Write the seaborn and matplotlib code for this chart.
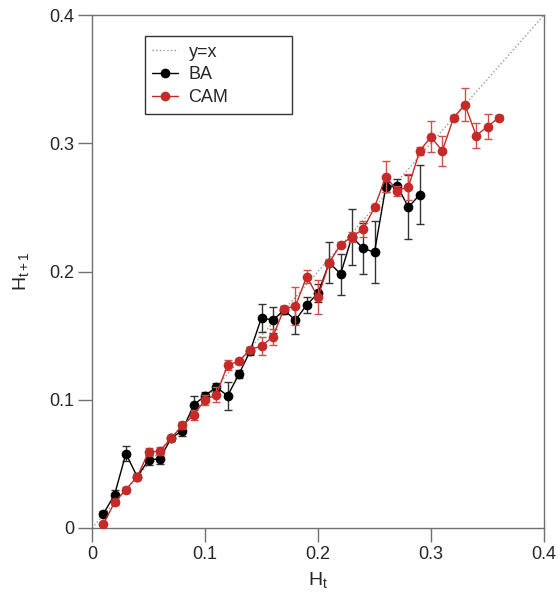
import seaborn as sns
import matplotlib.pyplot as plt
import pandas as pd
import numpy as np

sns.set_style('white')
plt.rcParams['font.family'] = ['Liberation Sans', 'DejaVu Sans']
plt.rcParams['mathtext.fontset'] = 'custom'
plt.rcParams['mathtext.rm'] = 'Liberation Sans'
plt.rcParams['mathtext.it'] = 'Liberation Sans:italic'

# BA model
ht_ba = [0.01, 0.02, 0.03, 0.04, 0.05, 0.06, 0.07, 0.08, 0.09, 0.10,
         0.11, 0.12, 0.13, 0.14, 0.15, 0.16, 0.17, 0.18, 0.19, 0.20,
         0.21, 0.22, 0.23, 0.24, 0.25, 0.26, 0.27, 0.28, 0.29]
ba = [0.011, 0.026, 0.058, 0.040, 0.053, 0.054, 0.070, 0.076, 0.096, 0.103,
      0.110, 0.103, 0.120, 0.138, 0.164, 0.162, 0.170, 0.162, 0.174, 0.183,
      0.207, 0.198, 0.227, 0.218, 0.215, 0.266, 0.267, 0.250, 0.260]
ba_err = [0.002, 0.004, 0.006, 0.002, 0.004, 0.004, 0.002, 0.004, 0.007, 0.003,
          0.003, 0.011, 0.003, 0.003, 0.011, 0.010, 0.003, 0.011, 0.006, 0.007,
          0.016, 0.016, 0.022, 0.020, 0.024, 0.004, 0.005, 0.025, 0.023]

# CAM model
ht_cam = [0.01, 0.02, 0.03, 0.04, 0.05, 0.06, 0.07, 0.08, 0.09, 0.10,
          0.11, 0.12, 0.13, 0.14, 0.15, 0.16, 0.17, 0.18, 0.19, 0.20,
          0.21, 0.22, 0.23, 0.24, 0.25, 0.26, 0.27, 0.28, 0.29, 0.30,
          0.31, 0.32, 0.33, 0.34, 0.35, 0.36]
cam = [0.003, 0.020, 0.030, 0.040, 0.059, 0.060, 0.070, 0.080, 0.088, 0.100,
       0.104, 0.127, 0.130, 0.139, 0.142, 0.149, 0.171, 0.173, 0.196, 0.180,
       0.207, 0.221, 0.227, 0.233, 0.250, 0.274, 0.263, 0.266, 0.294, 0.305,
       0.294, 0.320, 0.330, 0.306, 0.313, 0.320]
cam_err = [0.001, 0.002, 0.002, 0.002, 0.003, 0.003, 0.002, 0.003, 0.004, 0.004,
           0.006, 0.004, 0.002, 0.002, 0.007, 0.006, 0.002, 0.015, 0.005, 0.013,
           0.003, 0.002, 0.004, 0.006, 0.002, 0.012, 0.004, 0.010, 0.003, 0.012,
           0.012, 0.002, 0.013, 0.010, 0.010, 0.002]

red = '#c42a28'
red_light = '#d2504a'
grey = '#707070'

df_ba = pd.DataFrame({'ht': ht_ba, 'ht1': ba, 'err': ba_err})
df_cam = pd.DataFrame({'ht': ht_cam, 'ht1': cam, 'err': cam_err})

fig = plt.figure(figsize=(5.58, 5.97), dpi=100)
ax = fig.add_axes([92 / 558, 1 - 528 / 597, 452 / 558, 513 / 597])

ax.plot([0, 0.4], [0, 0.4], ls=':', color='#999999', lw=1, label='y=x', zorder=1)

ax.errorbar(df_ba['ht'], df_ba['ht1'], yerr=df_ba['err'], fmt='none',
            ecolor='#333333', elinewidth=1, capsize=2.8, capthick=1, zorder=2)
sns.lineplot(data=df_ba, x='ht', y='ht1', ax=ax, color='black', lw=1,
             marker='o', markersize=7, markeredgewidth=0, label='BA', zorder=3)

ax.errorbar(df_cam['ht'], df_cam['ht1'], yerr=df_cam['err'], fmt='none',
            ecolor=red_light, elinewidth=1, capsize=2.8, capthick=1, zorder=4)
sns.lineplot(data=df_cam, x='ht', y='ht1', ax=ax, color=red, lw=1,
             marker='o', markersize=7, markeredgewidth=0, label='CAM', zorder=5)

ax.set_xlim(0, 0.4)
ax.set_ylim(0, 0.4)
ax.set_xticks([0, 0.1, 0.2, 0.3, 0.4])
ax.set_xticklabels(['0', '0.1', '0.2', '0.3', '0.4'])
ax.set_yticks([0, 0.1, 0.2, 0.3, 0.4])
ax.set_yticklabels(['0', '0.1', '0.2', '0.3', '0.4'])
ax.tick_params(axis='both', direction='out', length=10, width=1, color=grey,
               labelsize=13, pad=3, bottom=True, left=True)
for s in ax.spines.values():
    s.set_color(grey)
    s.set_linewidth(1)

ax.set_xlabel(r'H$_\mathregular{t}$', fontsize=14, labelpad=5)
ax.set_ylabel(r'H$_\mathregular{t+1}$', fontsize=14, labelpad=13)

leg = ax.legend(loc='upper left', bbox_to_anchor=(0.117, 0.959, 0.325, 0),
                mode='expand', borderaxespad=0,
                fontsize=13, frameon=True, fancybox=False, edgecolor='#333333',
                framealpha=1, handlelength=1.4, handletextpad=0.6,
                labelspacing=0.32, borderpad=0.42)
leg.get_frame().set_linewidth(1)

fig.savefig('out.png', dpi=100)
